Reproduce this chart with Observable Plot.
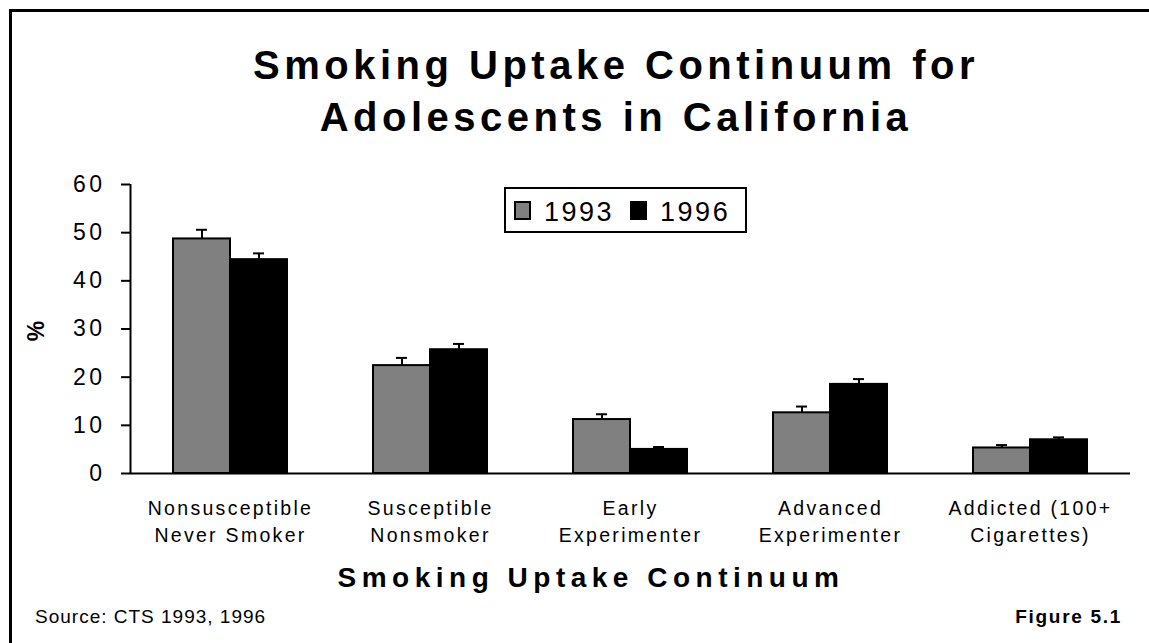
<!DOCTYPE html>
<html>
<head>
<meta charset="utf-8">
<script src="https://cdn.jsdelivr.net/npm/d3@7"></script>
<script src="https://cdn.jsdelivr.net/npm/@observablehq/plot@0.6"></script>
<style>
  html, body { margin: 0; padding: 0; background: #fff; overflow: hidden; }
  #root { position: relative; width: 1149px; height: 643px; overflow: hidden;
          font-family: "Liberation Sans", Arial, sans-serif; color: #000; }
  #frame { position: absolute; left: 9px; top: 9px; width: 1400px; height: 900px;
           border-left: 3px solid #000; border-top: 3px solid #000; }
  .layer { position: absolute; left: 0; top: 0; }
  #title { position: absolute; left: 0; top: 39px; width: 1232px; text-align: center;
           font-weight: bold; font-size: 40px; line-height: 52px; letter-spacing: 4.5px; }
  #xlabel { position: absolute; left: 0; top: 564px; width: 1182px; text-align: center;
            font-weight: bold; font-size: 28px; line-height: 28px; letter-spacing: 5.5px; }
  #ylabel { position: absolute; left: 36px; top: 331px; font-weight: bold; font-size: 23px;
            transform: translate(-50%, -50%) rotate(-90deg); line-height: 23px; }
  #source { position: absolute; left: 35px; top: 606px; font-size: 19px; line-height: 22px; letter-spacing: 1px; }
  #figure { position: absolute; right: 27px; top: 606px; font-size: 19px; font-weight: bold; line-height: 22px; letter-spacing: 1.7px; }
  #legend { position: absolute; left: 504px; top: 187px; width: 239px; height: 42px;
            border: 2px solid #000; background: #fff; display: flex; align-items: center; box-sizing: content-box; }
  .item { display: flex; align-items: center; margin-left: 8px; }
  .item + .item { margin-left: 16px; }
  .sw { width: 13px; height: 15px; border: 2px solid #000; margin-right: 13px; }
  .lt { font-size: 27px; letter-spacing: 2.5px; line-height: 27px; padding-top: 4px; }
  svg g[aria-label="y-axis tick label"] { letter-spacing: 3.5px; }
  svg g[aria-label="fx-axis tick label"] { letter-spacing: 2.3px; }
</style>
</head>
<body>
<div id="root">
  <div id="frame"></div>
  <div id="title">Smoking Uptake Continuum for<br>Adolescents in California</div>
  <div id="ylabel">%</div>
  <div id="xlabel">Smoking Uptake Continuum</div>
  <div id="source">Source: CTS 1993, 1996</div>
  <div id="figure">Figure 5.1</div>
</div>
<script>
// ---- data ----
const categories = [
  "Nonsusceptible\nNever Smoker",
  "Susceptible\nNonsmoker",
  "Early\nExperimenter",
  "Advanced\nExperimenter",
  "Addicted (100+\nCigarettes)"
];
const years = ["1993", "1996"];
const values1993 = [48.7, 22.4, 11.2, 12.6, 5.3];
const values1996 = [44.4, 25.7, 5.0, 18.5, 7.0];
const errors1993 = [1.9, 1.6, 1.1, 1.3, 0.6];
const errors1996 = [1.3, 1.2, 0.5, 1.1, 0.5];
const yTicks = [0, 10, 20, 30, 40, 50, 60];
const colors = ["#808080", "#000000"];

const data = [];
categories.forEach((c, i) => {
  data.push({category: c, year: years[0], value: values1993[i], err: errors1993[i]});
  data.push({category: c, year: years[1], value: values1996[i], err: errors1996[i]});
});

const font = '"Liberation Sans", Arial, sans-serif';
const common = {
  width: 1149, height: 643,
  marginTop: 184, marginBottom: 170, marginLeft: 130, marginRight: 19
};

const bars = Plot.plot({
  ...common,
  style: {fontFamily: font, background: "transparent", overflow: "visible", color: "#000"},
  fx: {domain: categories, padding: 0},
  x: {domain: years, paddingInner: 0, paddingOuter: 0.739, axis: null},
  y: {domain: [0, 60], axis: null},
  color: {domain: years, range: colors},
  marks: [
    Plot.barY(data, {fx: "category", x: "year", y: "value", fill: "year", stroke: "#000", strokeWidth: 2}),
    Plot.ruleX(data, {fx: "category", x: "year", y1: "value", y2: d => d.value + d.err, stroke: "#000", strokeWidth: 2}),
    Plot.tickY(data, {fx: "category", x: "year", y: d => d.value + d.err, stroke: "#000", strokeWidth: 2, insetLeft: 23, insetRight: 23}),
    Plot.axisFx({anchor: "bottom", tickSize: 0, tickPadding: 23, fontSize: 19.5, lineHeight: 1.35, label: null, fill: "#000"})
  ]
});
bars.classList.add("layer");

const axes = Plot.plot({
  ...common,
  style: {fontFamily: font, background: "transparent", overflow: "visible", color: "#000"},
  x: {domain: [0, 1], axis: null},
  y: {domain: [0, 60], axis: null},
  marks: [
    Plot.ruleY([0], {stroke: "#000", strokeWidth: 2}),
    Plot.ruleX([0], {stroke: "#000", strokeWidth: 2}),
    Plot.axisY(yTicks, {anchor: "left", tickSize: 9, tickPadding: 16, fontSize: 23, strokeWidth: 2, stroke: "#000", fill: "#000", label: null})
  ]
});
axes.classList.add("layer");

const root = document.getElementById("root");
root.appendChild(bars);
root.appendChild(axes);

// legend built from the series arrays
const legend = document.createElement("div");
legend.id = "legend";
years.forEach((y, i) => {
  const item = document.createElement("div");
  item.className = "item";
  const sw = document.createElement("div");
  sw.className = "sw";
  sw.style.background = colors[i];
  const lt = document.createElement("div");
  lt.className = "lt";
  lt.textContent = y;
  item.appendChild(sw);
  item.appendChild(lt);
  legend.appendChild(item);
});
root.appendChild(legend);
</script>
</body>
</html>
